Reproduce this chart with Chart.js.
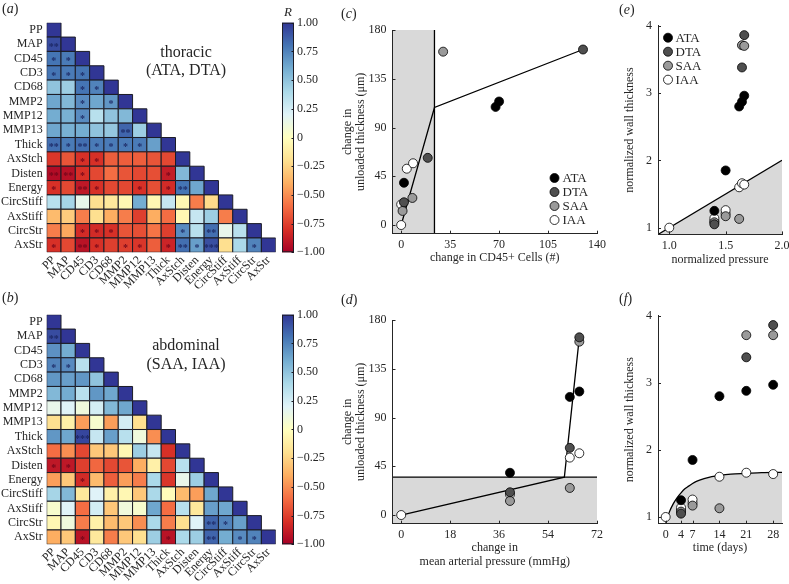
<!DOCTYPE html>
<html>
<head>
<meta charset="utf-8">
<script src="https://cdn.jsdelivr.net/npm/chart.js@4.4.1/dist/chart.umd.min.js"></script>
<style>
html,body{margin:0;padding:0;background:#fff;}
body{position:relative;width:789px;height:584px;overflow:hidden;}
canvas{position:absolute;}
.t{position:absolute;white-space:nowrap;color:#262626;font-family:"Liberation Serif","DejaVu Serif",serif;line-height:1;}
</style>
</head>
<body>
<script>
// ------------------------------------------------------------------ data
const variables = ['PP','MAP','CD45','CD3','CD68','MMP2','MMP12','MMP13','Thick','AxStch','Disten','Energy','CircStiff','AxStiff','CircStr','AxStr'];

const thoracicR = [
 [1],
 [0.93,1],
 [0.8,0.78,1],
 [0.8,0.78,0.8,1],
 [0.5,0.45,0.8,0.75,1],
 [0.62,0.55,0.72,0.62,0.68,1],
 [0.6,0.58,0.72,0.35,0.5,0.55,1],
 [0.62,0.58,0.6,0.5,0.48,0.85,0.45,1],
 [0.82,0.78,0.82,0.78,0.78,0.78,0.78,0.65,1],
 [-0.78,-0.68,-0.8,-0.8,-0.65,-0.65,-0.65,-0.68,-0.72,1],
 [-0.95,-0.93,-0.8,-0.72,-0.6,-0.68,-0.72,-0.7,-0.88,0.55,1],
 [-0.8,-0.72,-0.9,-0.8,-0.72,-0.72,-0.8,-0.7,-0.82,0.8,0.62,1],
 [0.35,0.42,0.15,-0.2,-0.15,-0.05,0.6,-0.05,0.3,-0.05,-0.55,-0.22,1],
 [-0.35,-0.28,-0.55,-0.2,-0.4,-0.55,-0.75,-0.4,-0.6,-0.05,0.3,0.45,-0.55,1],
 [-0.55,-0.42,-0.82,-0.82,-0.8,-0.68,-0.7,-0.58,-0.75,0.72,0.35,0.82,0.15,0.35,1],
 [-0.8,-0.72,-0.92,-0.8,-0.75,-0.75,-0.78,-0.65,-0.85,0.82,0.65,0.92,-0.2,0.4,0.75,1]
];
const thoracicSig = [
 [''],
 ['**',''],
 ['*','*',''],
 ['*','*','*',''],
 ['','','*','*',''],
 ['','','*','','*',''],
 ['','','*','','','',''],
 ['','','','','','**','',''],
 ['**','*','**','*','*','*','*','',''],
 ['','','*','*','','','','','',''],
 ['**','**','*','','','','','','*','',''],
 ['*','','**','*','','','*','','*','**','',''],
 ['','','','','','','','','','','','',''],
 ['','','','','','','','','','','','','',''],
 ['','','*','*','*','','','','','*','','**','','',''],
 ['*','','**','*','','*','*','','*','**','*','***','','','*','']
];

const abdominalR = [
 [1],
 [0.93,1],
 [0.7,0.6,1],
 [0.75,0.72,0.35,1],
 [0.68,0.65,0.68,0.5,1],
 [0.55,0.6,0.35,0.68,0.62,1],
 [0.15,0.2,0.1,0.25,0.55,0.62,1],
 [-0.2,-0.1,-0.45,0.05,-0.45,0.25,-0.2,1],
 [0.68,0.62,0.95,0.3,0.65,0.35,0.1,-0.5,1],
 [-0.6,-0.5,-0.72,-0.3,-0.3,-0.05,0.45,0.3,-0.8,1],
 [-0.9,-0.9,-0.75,-0.62,-0.72,-0.68,-0.4,-0.1,-0.72,0.35,1],
 [-0.45,-0.3,-0.82,-0.35,-0.65,-0.45,-0.55,0.4,-0.78,0.15,0.45,1],
 [0.42,0.55,-0.15,0.2,-0.1,-0.05,-0.3,0.4,-0.02,-0.35,-0.45,0.62,1],
 [0.05,0.2,-0.6,0.25,-0.3,0.1,0.05,0.62,-0.6,0.35,-0.15,0.65,0.62,1],
 [-0.05,0.1,-0.55,-0.1,-0.35,-0.3,-0.5,0.4,-0.55,-0.2,0.2,0.85,0.75,0.65,1],
 [-0.4,-0.3,-0.92,-0.15,-0.55,-0.3,-0.2,0.45,-0.92,0.4,0.45,0.85,0.6,0.72,0.75,1]
];
const abdominalSig = [
 [''],
 ['**',''],
 ['','',''],
 ['*','*','',''],
 ['','','','',''],
 ['','','','','',''],
 ['','','','','','',''],
 ['','','','','','','',''],
 ['','','***','','','','','',''],
 ['','','','','','','','','',''],
 ['*','*','','','','','','','','',''],
 ['','','*','','','','','','','','',''],
 ['','','','','','','','','','','','',''],
 ['','','','','','','','','','','','','',''],
 ['','','','','','','','','','','','**','*','',''],
 ['','','*','','','','','','*','','','**','','*','*','']
];
const colorbarTicks = [-1,-0.75,-0.5,-0.25,0,0.25,0.5,0.75,1];

const groups = ['ATA','DTA','SAA','IAA'];

// (c) change in CD45+ cells vs change in unloaded thickness
const cd45Change  = {ATA:[2,67.5,70], DTA:[2,19,130], SAA:[1,8,30], IAA:[0,0,4,8.5]};
const thickChangeC = {ATA:[39,109,114], DTA:[21,62,162], SAA:[13,25,160], IAA:[0,19,52,57]};
const fitCx = [0,23.8,130];
const fitCy = [0,108.5,162];
const cd45Threshold = 23.8;

// (d) change in mean arterial pressure vs change in unloaded thickness
const mapChange   = {ATA:[40,62,65.5], DTA:[40,62,65.5], SAA:[40,62,65.5], IAA:[0,40,62,65.5]};
const thickChangeD = {ATA:[39,109,114], DTA:[21,62,164], SAA:[13,25,160], IAA:[0,19,53,57]};
const fitDx = [0,60,65.5];
const fitDy = [0,35,164];
const thickThreshold = 35;

// (e) normalized pressure vs normalized wall thickness
const normPressure = {ATA:[1.4,1.5,1.62,1.645,1.665], DTA:[1.4,1.645,1.665], SAA:[1.4,1.5,1.62,1.645,1.665], IAA:[1.0,1.4,1.4,1.5,1.5,1.62,1.645,1.665]};
const normThickE   = {ATA:[1.25,1.85,2.80,2.87,2.96], DTA:[1.05,3.38,3.86], SAA:[1.08,1.17,1.13,3.71,3.70], IAA:[1.0,1.10,1.14,1.21,1.26,1.60,1.66,1.64]};
const fitEx = [0.9,2.0];
const fitEy = [0.9,2.0];

// (f) time vs normalized wall thickness
const days       = {ATA:[4,7,14,21,28], DTA:[4,21,28], SAA:[4,7,14,21,28], IAA:[0,4,4,7,7,14,21,28]};
const normThickF = {ATA:[1.25,1.85,2.80,2.88,2.97], DTA:[1.05,3.38,3.86], SAA:[1.08,1.17,1.13,3.71,3.71], IAA:[1.0,1.10,1.14,1.21,1.26,1.60,1.66,1.64]};
const fitFt = [0,1,2,3,4,5,6,7,8,10,12,14,17,21,25,30.3];
const fitFy = [0.9,1.08,1.2,1.29,1.36,1.42,1.46,1.5,1.53,1.57,1.6,1.62,1.64,1.65,1.66,1.665];

// ------------------------------------------------------------------ styles
const INK = '#262626';
const SHADE = '#d9d9d9';
const SERIF = '"Liberation Serif","DejaVu Serif",serif';
const MARKER_R = 4.5;
const groupFill = {ATA:'#000000', DTA:'#4f4f4f', SAA:'#9a9a9a', IAA:'#ffffff'};
const RDYLBU = [[165,0,38],[215,48,39],[244,109,67],[253,174,97],[254,224,144],[255,255,191],[224,243,248],[171,217,233],[116,173,209],[69,117,180],[49,54,149]];

Chart.defaults.font.family = SERIF;
Chart.defaults.font.size = 12;
Chart.defaults.color = INK;

function rColor(v){
  const t = Math.max(0,Math.min(1,(v+1)/2))*10;
  const i = Math.min(9,Math.floor(t)); const f = t-i;
  const a = RDYLBU[i], b = RDYLBU[i+1];
  return 'rgb('+a.map((c,k)=>Math.round(c+(b[k]-c)*f)).join(',')+')';
}
function makeCanvas(box){
  const c = document.createElement('canvas');
  c.width = box.w; c.height = box.h;
  c.style.left = box.x+'px'; c.style.top = box.y+'px';
  c.style.width = box.w+'px'; c.style.height = box.h+'px';
  document.body.appendChild(c);
  return c;
}
function addText(html, x, cy, size, align){
  const d = document.createElement('div');
  d.className = 't';
  d.innerHTML = html;
  d.style.left = x+'px'; d.style.top = (cy - size/2)+'px';
  d.style.fontSize = size+'px';
  if (align==='center') d.style.transform = 'translateX(-50%)';
  document.body.appendChild(d);
}
function pad(box, area){
  return {left:0, top:area.T-box.y, right:box.x+box.w-area.R, bottom:0};
}

// ------------------------------------------------------------------ heatmaps
const starPlugin = {
  id:'stars',
  afterDatasetsDraw(chart){
    const ctx = chart.ctx, meta = chart.getDatasetMeta(0), data = chart.data.datasets[0].data;
    ctx.save();
    ctx.font = 'bold 10px '+SERIF; ctx.textAlign='center'; ctx.textBaseline='middle';
    meta.data.forEach((el,k)=>{
      const d = data[k];
      if (!d.s) return;
      ctx.fillStyle = d.v>0 ? 'rgba(25,35,95,0.9)' : 'rgba(110,5,25,0.9)';
      ctx.fillText(d.s, el.x, el.y+3);
    });
    ctx.restore();
  }
};
function heatmap(box, area, R, S){
  const cv = makeCanvas(box);
  const pts = [];
  R.forEach((row,i)=>row.forEach((v,j)=>pts.push({x:j, y:i, v:v, s:S[i][j]})));
  const radius = c => { const a = c.chart.chartArea; return a ? (a.width/variables.length)/Math.SQRT2 : 5; };
  const idxTicks = s => { s.ticks = variables.map((_,i)=>({value:i})); };
  new Chart(cv, {
    type:'scatter',
    data:{datasets:[{data:pts, pointStyle:'rect', pointRadius:radius, pointHoverRadius:radius,
      backgroundColor:c=>rColor(c.raw.v), hoverBackgroundColor:c=>rColor(c.raw.v),
      borderColor:'#1c1c26', borderWidth:1, hoverBorderWidth:1}]},
    options:{
      responsive:false, animation:false, devicePixelRatio:1, events:[],
      layout:{padding:pad(box,area)},
      scales:{
        x:{type:'linear', min:-0.5, max:15.5, afterBuildTicks:idxTicks,
           afterFit:s=>{s.height = box.y+box.h-area.B;},
           ticks:{autoSkip:false, minRotation:45, maxRotation:45, padding:1, callback:v=>variables[v], font:{size:12}},
           grid:{display:false, drawTicks:false}, border:{display:false}},
        y:{type:'linear', reverse:true, min:-0.5, max:15.5, afterBuildTicks:idxTicks,
           afterFit:s=>{s.width = area.L-box.x;},
           ticks:{autoSkip:false, padding:4, callback:v=>variables[v], font:{size:12}},
           grid:{display:false, drawTicks:false}, border:{display:false}}
      },
      plugins:{legend:{display:false}, tooltip:{enabled:false}}
    },
    plugins:[starPlugin]
  });
}
const cbPlugin = {
  id:'cbar',
  beforeDatasetsDraw(chart){
    const {ctx, chartArea:a} = chart;
    const g = ctx.createLinearGradient(0, a.bottom, 0, a.top);
    RDYLBU.forEach((c,i)=>g.addColorStop(i/(RDYLBU.length-1), 'rgb('+c.join(',')+')'));
    ctx.save();
    ctx.fillStyle = g; ctx.fillRect(a.left, a.top, a.right-a.left, a.bottom-a.top);
    ctx.strokeStyle = '#1c1c26'; ctx.lineWidth = 1;
    ctx.strokeRect(a.left+0.5, a.top+0.5, a.right-a.left-1, a.bottom-a.top-1);
    const y = chart.scales.y;
    ctx.beginPath();
    y.ticks.forEach(t=>{ const p = Math.round(y.getPixelForValue(t.value))+0.5; ctx.moveTo(a.right, p); ctx.lineTo(a.right-2.5, p); });
    ctx.stroke();
    ctx.restore();
  }
};
function colorbar(box, area){
  const cv = makeCanvas(box);
  new Chart(cv, {
    type:'scatter',
    data:{datasets:[{data:[]}]},
    options:{
      responsive:false, animation:false, devicePixelRatio:1, events:[],
      layout:{padding:{left:area.L-box.x, top:area.T-box.y, right:0, bottom:box.y+box.h-area.B}},
      scales:{
        x:{display:false, min:0, max:1},
        y:{position:'right', min:-1, max:1,
           afterBuildTicks:s=>{ s.ticks = colorbarTicks.map(v=>({value:v})); },
           afterFit:s=>{ s.width = box.x+box.w-area.R; },
           ticks:{padding:3, font:{size:12}, callback:v=> v===0 ? '0' : (v<0?'\u2212':'')+Math.abs(v).toFixed(2)},
           grid:{display:false, drawTicks:false}, border:{display:false}}
      },
      plugins:{legend:{display:false}, tooltip:{enabled:false}}
    },
    plugins:[cbPlugin]
  });
}

// ------------------------------------------------------------------ scatter panels
const inTicks = {
  id:'inTicks',
  afterDraw(chart){
    const {ctx, chartArea:a, scales:{x,y}} = chart;
    ctx.save(); ctx.strokeStyle = INK; ctx.lineWidth = 1; ctx.beginPath();
    x.ticks.forEach(t=>{ const p = Math.round(x.getPixelForValue(t.value))+0.5; ctx.moveTo(p, a.bottom); ctx.lineTo(p, a.bottom-3); });
    y.ticks.forEach(t=>{ const p = Math.round(y.getPixelForValue(t.value))+0.5; ctx.moveTo(a.left, p); ctx.lineTo(a.left+3, p); });
    ctx.stroke(); ctx.restore();
  }
};
const pointLegend = {
  id:'pointLegend',
  afterDraw(chart, args, opts){
    if (!opts || !opts.show) return;
    const ctx = chart.ctx;
    ctx.save();
    ctx.font = opts.size+'px '+SERIF; ctx.textBaseline='middle'; ctx.textAlign='left';
    let y = opts.y;
    chart.data.datasets.forEach(ds=>{
      if (!ds.isGroup) return;
      ctx.beginPath(); ctx.arc(opts.x, y, MARKER_R, 0, Math.PI*2);
      ctx.fillStyle = ds.backgroundColor; ctx.fill();
      ctx.lineWidth = 0.8; ctx.strokeStyle = '#000'; ctx.stroke();
      ctx.fillStyle = INK; ctx.fillText(ds.label, opts.x+opts.gap, y+0.5);
      y += opts.dy;
    });
    ctx.restore();
  }
};
function xy(xs, ys){ return xs.map((x,k)=>({x:x, y:ys[k]})); }
function scatterPanel(box, area, o){
  const cv = makeCanvas(box);
  const ds = [];
  (o.fills||[]).forEach(f=>ds.push({type:'line', data:f, pointRadius:0, borderWidth:0, borderColor:'rgba(0,0,0,0)', backgroundColor:SHADE, fill:'start', order:7}));
  (o.lines||[]).forEach(l=>ds.push({type:'line', data:l.data, pointRadius:0, borderWidth:1.3, borderColor:'#000', fill:l.fill?'start':false, backgroundColor:SHADE, cubicInterpolationMode:l.smooth?'monotone':'default', order:l.fill?6:5}));
  groups.forEach(g=>ds.push({label:g, isGroup:true, data:xy(o.xs[g], o.ys[g]), backgroundColor:groupFill[g], borderColor:'#000', borderWidth:0.8, pointRadius:MARKER_R, pointHoverRadius:MARKER_R, order:1}));
  new Chart(cv, {
    type:'scatter',
    data:{datasets:ds},
    options:{
      responsive:false, animation:false, devicePixelRatio:1, events:[],
      layout:{padding:pad(box,area)},
      scales:{
        x:{type:'linear', min:o.xMin, max:o.xMax,
           afterBuildTicks:s=>{ s.ticks = o.xTicks.map(v=>({value:v})); },
           afterFit:s=>{ s.height = box.y+box.h-area.B; },
           ticks:{padding:4, autoSkip:false, maxRotation:0, callback:o.xFmt||(v=>String(v)), font:{size:12}},
           grid:{display:false, drawTicks:false}, border:{display:true, color:INK, width:1, z:2},
           title:{display:true, text:o.xTitle, font:{size:12, lineHeight:1.1}, padding:{top:0,bottom:0}}},
        y:{type:'linear', min:o.yMin, max:o.yMax,
           afterBuildTicks:s=>{ s.ticks = o.yTicks.map(v=>({value:v})); },
           afterFit:s=>{ s.width = area.L-box.x; },
           ticks:{padding:6, autoSkip:false, callback:o.yFmt||(v=>String(v)), font:{size:12}},
           grid:{display:false, drawTicks:false}, border:{display:true, color:INK, width:1, z:2},
           title:{display:true, text:o.yTitle, font:{size:12, lineHeight:1.1}, padding:{top:o.yTitlePad,bottom:0}}}
      },
      plugins:{legend:{display:false}, tooltip:{enabled:false},
        pointLegend: o.legend ? {show:true, size:13, dy:14, x:o.legend.x-box.x, y:o.legend.y-box.y, gap:o.legend.gap||8} : {show:false}}
    },
    plugins:[inTicks, pointLegend]
  });
}

// ------------------------------------------------------------------ build
// (a)
heatmap({x:0,y:0,w:290,h:300}, {L:46.7,T:22.7,R:275.7,B:252.3}, thoracicR, thoracicSig);
colorbar({x:270,y:0,w:70,h:290}, {L:282,T:22.7,R:294,B:252.3});
// (b)
heatmap({x:0,y:290,w:290,h:294}, {L:46.7,T:314.7,R:275.7,B:544.3}, abdominalR, abdominalSig);
colorbar({x:270,y:290,w:70,h:294}, {L:282,T:314.7,R:294,B:544.3});

// (c)
scatterPanel({x:330,y:0,w:290,h:264}, {L:392.5,T:30,R:597,B:233.7}, {
  xMin:-6.2, xMax:140, xTicks:[0,35,70,105,140], yMin:-8, yMax:180, yTicks:[0,45,90,135,180],
  xTitle:'change in CD45+ Cells (#)', yTitle:['change in','unloaded thickness (\u03bcm)'], yTitlePad:11,
  fills:[[{x:-6.2,y:180},{x:cd45Threshold,y:180}]],
  lines:[{data:[{x:cd45Threshold,y:-8},{x:cd45Threshold,y:180}]}, {data:xy(fitCx,fitCy)}],
  xs:cd45Change, ys:thickChangeC,
  legend:{x:554.5, y:178, gap:8}
});
// (d)
scatterPanel({x:330,y:290,w:290,h:278}, {L:392.5,T:320,R:597,B:523.7}, {
  xMin:-3.2, xMax:72, xTicks:[0,18,36,54,72], yMin:-8, yMax:180, yTicks:[0,45,90,135,180],
  xTitle:['change in','mean arterial pressure (mmHg)'], yTitle:['change in','unloaded thickness (\u03bcm)'], yTitlePad:11,
  lines:[{data:[{x:-3.2,y:thickThreshold},{x:72,y:thickThreshold}], fill:true}, {data:xy(fitDx,fitDy)}],
  xs:mapChange, ys:thickChangeD
});
// (e)
scatterPanel({x:615,y:0,w:190,h:266}, {L:658,T:25.7,R:782,B:234.4}, {
  xMin:0.9, xMax:2.0, xTicks:[1,1.5,2], xFmt:v=>v.toFixed(1), yMin:0.9, yMax:4, yTicks:[1,2,3,4],
  xTitle:'normalized pressure', yTitle:'normalized wall thickness', yTitlePad:8,
  lines:[{data:xy(fitEx,fitEy), fill:true}],
  xs:normPressure, ys:normThickE,
  legend:{x:668, y:37.7, gap:7.5}
});
// (f)
scatterPanel({x:615,y:290,w:190,h:264}, {L:658,T:315.7,R:782,B:523.7}, {
  xMin:-2, xMax:30.3, xTicks:[0,4,7,14,21,28], yMin:0.9, yMax:4, yTicks:[1,2,3,4],
  xTitle:'time (days)', yTitle:'normalized wall thickness', yTitlePad:8,
  lines:[{data:xy(fitFt,fitFy), fill:true, smooth:true}],
  xs:days, ys:normThickF
});

// ------------------------------------------------------------------ text
addText('(<i>a</i>)', 2, 9, 14);
addText('(<i>b</i>)', 2, 298, 14);
addText('(<i>c</i>)', 341, 14, 14);
addText('(<i>d</i>)', 341, 300, 14);
addText('(<i>e</i>)', 619, 10, 14);
addText('(<i>f</i>)', 619, 299, 14);
addText('<i>R</i>', 288, 11, 13, 'center');
addText('thoracic', 186, 52, 16, 'center');
addText('(ATA, DTA)', 186, 70, 16, 'center');
addText('abdominal', 186, 345, 16, 'center');
addText('(SAA, IAA)', 186, 364, 16, 'center');
</script>
</body>
</html>
